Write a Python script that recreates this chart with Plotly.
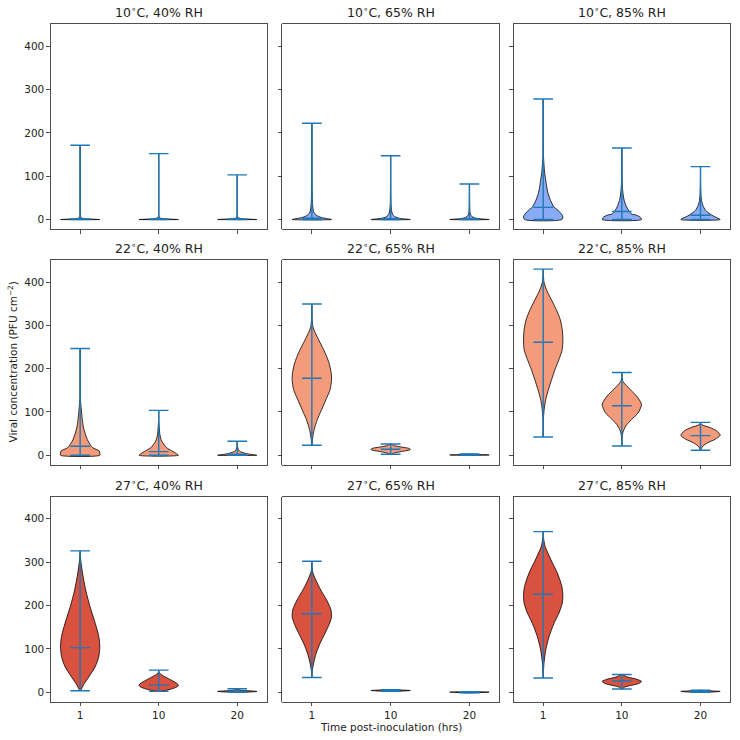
import plotly.graph_objects as go

# ---------------- data ----------------
temperatures = ["10", "22", "27"]
humidities = ["40", "65", "85"]
time_labels = ["1", "10", "20"]
positions = [1, 2, 3]

fill_colors = ["#89aaf5", "#f39b7a", "#d9513f"]

# extrema / means per temperature: rows = RH (40, 65, 85), cols = time (1, 10, 20 h)
min_10C = [[0, 0, 0], [0, 0, 0], [0, 0, 0]]
max_10C = [[171.5, 152, 103], [222, 147, 82], [278, 165, 122]]
mean_10C = [[1.5, 1, 0.8], [3, 2, 1.2], [28, 18.5, 10]]

min_22C = [[0, 0, 0], [23, 2.3, 0], [42, 21.5, 11.5]]
max_22C = [[246.5, 103.7, 32.3], [349.5, 26, 3], [430, 191, 76]]
mean_22C = [[20.7, 8.4, 2.3], [178, 13.8, 1], [261, 114.5, 45.3]]

min_27C = [[3.5, 2, 0], [34, 2, -1.5], [32.7, 7.4, 0]]
max_27C = [[326, 51, 8], [302, 6, 1.5], [370.5, 41, 4.5]]
mean_27C = [[103, 16.5, 2.5], [181, 4, 0], [226, 26, 2]]

# density profiles (levels, relative half-widths)
profile_10C_40RH = [
    ([0, 1, 2.5, 5, 10, 30, 171.5], [1, 0.6, 0.15, 0.03, 0.01, 0.004, 0]),
    ([0, 1, 2.5, 5, 10, 30, 152], [1, 0.6, 0.15, 0.03, 0.01, 0.004, 0]),
    ([0, 1, 2.5, 5, 10, 30, 103], [1, 0.6, 0.15, 0.03, 0.01, 0.004, 0]),
]
profile_10C_65RH = [
    ([0, 2, 4, 7, 11, 17, 25, 40, 70, 120, 222],
     [1, 0.8, 0.55, 0.35, 0.2, 0.1, 0.06, 0.03, 0.015, 0.006, 0]),
    ([0, 2, 4, 7, 12, 20, 35, 60, 147],
     [1, 0.6, 0.35, 0.2, 0.1, 0.05, 0.02, 0.01, 0]),
    ([0, 2, 4, 7, 12, 20, 40, 82],
     [1, 0.5, 0.25, 0.12, 0.05, 0.02, 0.008, 0]),
]
profile_10C_85RH = [
    ([0, 6, 10, 21.5, 29, 44.5, 60, 75, 91, 106, 121, 137, 152, 200, 278],
     [0.95, 1, 0.97, 0.75, 0.55, 0.37, 0.25, 0.18, 0.13, 0.08, 0.05, 0.025, 0.01, 0.003, 0]),
    ([0, 5, 10, 13.5, 29, 44, 60, 75, 91, 120, 165],
     [1, 0.95, 0.75, 0.47, 0.24, 0.12, 0.06, 0.03, 0.015, 0.005, 0]),
    ([0, 4, 10, 21.5, 33, 44.5, 60, 80, 122],
     [1, 0.85, 0.58, 0.25, 0.12, 0.05, 0.02, 0.006, 0]),
]
profile_22C_40RH = [
    ([0, 5, 10, 17.7, 33, 48, 64, 79, 95, 110, 125, 140, 170, 246.5],
     [1, 1, 0.97, 0.63, 0.4, 0.27, 0.17, 0.12, 0.08, 0.05, 0.02, 0.01, 0.003, 0]),
    ([0, 4, 10, 17.7, 33, 48, 64, 79, 103.7],
     [1, 0.9, 0.67, 0.4, 0.15, 0.06, 0.03, 0.01, 0]),
    ([0, 2, 4.6, 10, 17, 32.3],
     [1, 0.7, 0.4, 0.1, 0.03, 0]),
]
profile_22C_65RH = [
    ([23, 37, 60, 83, 106, 129, 152, 175, 190.5, 213.6, 237, 260, 283, 298, 321, 349.5],
     [0.01, 0.03, 0.12, 0.28, 0.5, 0.72, 0.93, 1, 0.98, 0.87, 0.67, 0.42, 0.17, 0.05, 0.01, 0]),
    ([2.3, 6, 9, 12, 13.8, 16, 19, 22, 26],
     [0.03, 0.25, 0.6, 0.95, 1, 0.92, 0.55, 0.2, 0.02]),
    ([0, 0.7, 1.5, 3],
     [0.6, 1, 0.6, 0.02]),
]
profile_22C_85RH = [
    ([42, 60, 83, 106, 129, 152, 175, 198, 221, 244, 267, 290, 313, 336, 359, 382, 400, 430],
     [0.003, 0.004, 0.01, 0.05, 0.13, 0.27, 0.43, 0.6, 0.8, 0.97, 1, 0.97, 0.87, 0.67, 0.42, 0.17, 0.04, 0]),
    ([21.5, 37, 52, 67.5, 83, 98, 117.5, 136.6, 152, 171, 191],
     [0.005, 0.01, 0.05, 0.2, 0.5, 0.83, 1, 0.75, 0.42, 0.05, 0]),
    ([11.5, 14, 21.5, 29, 37, 46, 56, 63.7, 71, 76],
     [0.01, 0.02, 0.13, 0.37, 0.75, 1, 0.83, 0.5, 0.05, 0]),
]
profile_27C_40RH = [
    ([3.5, 6, 17, 36, 59, 82.5, 105.5, 128.6, 159, 198, 236, 275, 305, 326],
     [0.02, 0.05, 0.17, 0.45, 0.77, 0.95, 1, 0.95, 0.77, 0.5, 0.28, 0.12, 0.03, 0]),
    ([2, 4, 9.7, 15, 19.6, 29, 40, 45, 51],
     [0.1, 0.35, 0.8, 1, 0.95, 0.6, 0.15, 0.03, 0]),
    ([0, 1, 2, 3, 5, 8],
     [0.3, 0.8, 1, 0.7, 0.15, 0]),
]
profile_27C_65RH = [
    ([34, 48, 67, 90, 113, 136, 159, 174.4, 190, 213, 236, 259, 278, 302],
     [0.005, 0.02, 0.09, 0.22, 0.42, 0.67, 0.9, 1, 0.97, 0.75, 0.45, 0.2, 0.04, 0]),
    ([2, 3, 4, 5, 6],
     [0.1, 0.7, 1, 0.6, 0]),
    ([-1.5, -0.5, 0.3, 1, 1.5],
     [0.1, 0.7, 1, 0.5, 0]),
]
profile_27C_85RH = [
    ([32.7, 44, 67, 98, 128.6, 159, 182.5, 205.5, 225, 244, 275, 305, 336, 355, 370.5],
     [0.005, 0.01, 0.04, 0.13, 0.3, 0.55, 0.8, 0.97, 1, 0.95, 0.72, 0.4, 0.1, 0.02, 0]),
    ([7.4, 12, 15, 20, 25, 30, 35, 41],
     [0.02, 0.15, 0.4, 0.85, 1, 0.75, 0.3, 0]),
    ([0, 1, 2, 3, 4.5],
     [0.3, 0.8, 1, 0.6, 0]),
]

y_ticks = [0, 100, 200, 300, 400]

# ---------------- assembly ----------------
mins = [min_10C, min_22C, min_27C]
maxs = [max_10C, max_22C, max_27C]
means = [mean_10C, mean_22C, mean_27C]
profiles = [
    [profile_10C_40RH, profile_10C_65RH, profile_10C_85RH],
    [profile_22C_40RH, profile_22C_65RH, profile_22C_85RH],
    [profile_27C_40RH, profile_27C_65RH, profile_27C_85RH],
]

VIOLIN_WIDTH = 0.5
CAP = 0.25 * VIOLIN_WIDTH  # half-length of caps / mean line -> total 0.25

FW, FH = 740, 740
col_px = [(50.7, 266.7), (282.3, 499.0), (513.7, 730.0)]
row_px = [(24.0, 229.3), (260.0, 465.0), (496.7, 702.0)]
Y_RANGE = [-22.5, 451]
X_RANGE = [0.625, 3.375]
FONT = "DejaVu Sans"

fig = go.Figure()
layout_axes = {}
annotations = []

for r in range(3):
    for c in range(3):
        idx = r * 3 + c + 1
        sfx = "" if idx == 1 else str(idx)
        xref, yref = "x" + sfx, "y" + sfx
        # violins
        for k, pos in enumerate(positions):
            ys, ws = profiles[r][c][k]
            half = [w * VIOLIN_WIDTH / 2 for w in ws]
            px = [pos + h for h in half] + [pos - h for h in reversed(half)]
            py = list(ys) + list(reversed(ys))
            px.append(px[0])
            py.append(py[0])
            fig.add_trace(go.Scatter(
                x=px, y=py, mode="lines", fill="toself",
                fillcolor=fill_colors[r],
                line=dict(color="black", width=0.8, shape="spline", smoothing=0.7),
                xaxis=xref, yaxis=yref, hoverinfo="skip", showlegend=False))
        # extrema bars, caps and means
        lx, ly = [], []
        for k, pos in enumerate(positions):
            lo, hi, mu = mins[r][c][k], maxs[r][c][k], means[r][c][k]
            lx += [pos, pos, None]
            ly += [lo, hi, None]
            for v in (lo, hi, mu):
                lx += [pos - CAP, pos + CAP, None]
                ly += [v, v, None]
        fig.add_trace(go.Scatter(
            x=lx, y=ly, mode="lines", line=dict(color="#1f77b4", width=1.4),
            xaxis=xref, yaxis=yref, hoverinfo="skip", showlegend=False))

        x0, x1 = col_px[c]
        y0, y1 = row_px[r]
        common = dict(showgrid=False, zeroline=False, showline=True, mirror=True,
                      linecolor="#222", linewidth=0.8, ticks="outside", ticklen=3.5,
                      tickwidth=0.8, tickcolor="#222",
                      tickfont=dict(family=FONT, size=10.5, color="#222"))
        layout_axes["xaxis" + sfx] = dict(
            domain=[x0 / FW, x1 / FW], anchor=yref, range=X_RANGE,
            tickmode="array", tickvals=positions, ticktext=time_labels,
            showticklabels=(r == 2), **common)
        layout_axes["yaxis" + sfx] = dict(
            domain=[1 - y1 / FH, 1 - y0 / FH], anchor=xref, range=Y_RANGE,
            tickmode="array", tickvals=y_ticks, ticktext=[str(t) for t in y_ticks],
            showticklabels=(c == 0), **common)
        annotations.append(dict(
            text=f"{temperatures[r]}<sup>∘</sup>C, {humidities[c]}% RH",
            x=(x0 + x1) / 2 / FW, y=1 - (y0 - 12) / FH, xref="paper", yref="paper",
            xanchor="center", yanchor="middle", showarrow=False,
            font=dict(family=FONT, size=12.5, color="#222")))

annotations.append(dict(
    text="Viral concentration (PFU cm<sup>−2</sup>)", textangle=-90,
    x=12 / FW, y=1 - (row_px[1][0] + row_px[1][1]) / 2 / FH,
    xref="paper", yref="paper", xanchor="center", yanchor="middle", showarrow=False,
    font=dict(family=FONT, size=10.5, color="#222")))
annotations.append(dict(
    text="Time post-inoculation (hrs)",
    x=(col_px[1][0] + col_px[1][1]) / 2 / FW, y=1 - 727 / FH,
    xref="paper", yref="paper", xanchor="center", yanchor="middle", showarrow=False,
    font=dict(family=FONT, size=10.5, color="#222")))

fig.update_layout(
    width=FW, height=FH, autosize=False,
    margin=dict(l=0, r=0, t=0, b=0),
    paper_bgcolor="white", plot_bgcolor="white",
    annotations=annotations, **layout_axes)

# remove the default 8px page margin so the 740px figure fills the window
fig.write_html(
    "out.html",
    config={"displayModeBar": False, "staticPlot": True},
    post_script="document.body.style.margin='0';document.body.style.overflow='hidden';",
)
